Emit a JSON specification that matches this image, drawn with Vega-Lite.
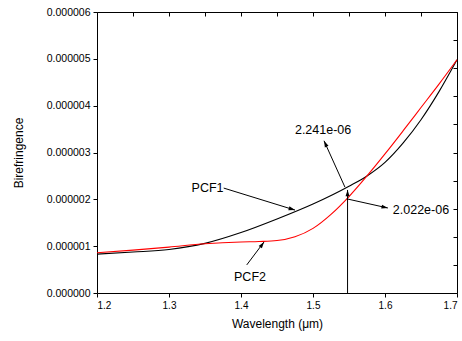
{
  "$schema": "https://vega.github.io/schema/vega-lite/v6.json",
  "width": 360,
  "height": 281,
  "autosize": {"type": "none"},
  "padding": {"left": 97, "top": 12, "right": 5, "bottom": 48},
  "background": "white",
  "config": {
    "view": {"stroke": null},
    "font": "Liberation Sans",
    "axis": {
      "grid": false,
      "domainColor": "black",
      "tickColor": "black",
      "labelColor": "black",
      "titleColor": "black",
      "labelFont": "Liberation Sans",
      "titleFont": "Liberation Sans",
      "titleFontWeight": "normal",
      "domainWidth": 1,
      "tickWidth": 1
    }
  },
  "datasets": {
    "curves": [
      {"wl": 1.2, "b": 0.00000083, "s": "PCF1"},
      {"wl": 1.25, "b": 0.000000875, "s": "PCF1"},
      {"wl": 1.3, "b": 0.00000093, "s": "PCF1"},
      {"wl": 1.35, "b": 0.00000106, "s": "PCF1"},
      {"wl": 1.4, "b": 0.00000129, "s": "PCF1"},
      {"wl": 1.45, "b": 0.00000158, "s": "PCF1"},
      {"wl": 1.5, "b": 0.0000019, "s": "PCF1"},
      {"wl": 1.55, "b": 0.00000228, "s": "PCF1"},
      {"wl": 1.575, "b": 0.0000025, "s": "PCF1"},
      {"wl": 1.6, "b": 0.00000279, "s": "PCF1"},
      {"wl": 1.625, "b": 0.0000032, "s": "PCF1"},
      {"wl": 1.65, "b": 0.0000037, "s": "PCF1"},
      {"wl": 1.675, "b": 0.0000043, "s": "PCF1"},
      {"wl": 1.7, "b": 0.00000498, "s": "PCF1"},
      {"wl": 1.2, "b": 0.00000086, "s": "PCF2"},
      {"wl": 1.25, "b": 0.000000915, "s": "PCF2"},
      {"wl": 1.3, "b": 0.00000098, "s": "PCF2"},
      {"wl": 1.35, "b": 0.00000105, "s": "PCF2"},
      {"wl": 1.4, "b": 0.00000109, "s": "PCF2"},
      {"wl": 1.425, "b": 0.0000011, "s": "PCF2"},
      {"wl": 1.45, "b": 0.00000112, "s": "PCF2"},
      {"wl": 1.475, "b": 0.0000012, "s": "PCF2"},
      {"wl": 1.5, "b": 0.00000138, "s": "PCF2"},
      {"wl": 1.525, "b": 0.00000168, "s": "PCF2"},
      {"wl": 1.55, "b": 0.00000206, "s": "PCF2"},
      {"wl": 1.575, "b": 0.0000025, "s": "PCF2"},
      {"wl": 1.6, "b": 0.00000297, "s": "PCF2"},
      {"wl": 1.625, "b": 0.00000346, "s": "PCF2"},
      {"wl": 1.65, "b": 0.00000396, "s": "PCF2"},
      {"wl": 1.675, "b": 0.00000446, "s": "PCF2"},
      {"wl": 1.7, "b": 0.00000498, "s": "PCF2"}
    ],
    "arrows": [
      {"id": "PCF1", "x1": 1.376, "y1": 0.00000224, "x2": 1.475, "y2": 0.00000177},
      {"id": "PCF2", "x1": 1.408, "y1": 0.0000006, "x2": 1.432, "y2": 0.00000109},
      {"id": "A2241", "x1": 1.5444, "y1": 0.00000226, "x2": 1.5153, "y2": 0.00000325},
      {"id": "A2022", "x1": 1.547, "y1": 0.00000201, "x2": 1.604, "y2": 0.000001815},
      {"id": "V", "x1": 1.548, "y1": 0, "x2": 1.548, "y2": 0.0000022}
    ],
    "labels": [
      {"x": 1.3535, "y": 0.00000224, "text": "PCF1"},
      {"x": 1.4125, "y": 0.00000034, "text": "PCF2"},
      {"x": 1.514, "y": 0.00000348, "text": "2.241e-06"},
      {"x": 1.65, "y": 0.00000177, "text": "2.022e-06"}
    ]
  },
  "layer": [
    {
      "data": {"name": "curves"},
      "mark": {"type": "line", "interpolate": "monotone", "strokeWidth": 1.1},
      "encoding": {
        "x": {
          "field": "wl", "type": "quantitative",
          "scale": {"domain": [1.2, 1.7], "nice": false, "zero": false},
          "axis": {"orient": "bottom", "values": [1.2, 1.3, 1.4, 1.5, 1.6, 1.7], "format": ".1f", "tickSize": 4, "labelFontSize": 10, "labelPadding": 3, "title": "Wavelength (μm)", "titleFontSize": 12, "titlePadding": 8}
        },
        "y": {
          "field": "b", "type": "quantitative",
          "scale": {"domain": [0, 0.000006], "nice": false},
          "axis": {"orient": "left", "values": [0, 0.000001, 0.000002, 0.000003, 0.000004, 0.000005, 0.000006], "format": ".6f", "tickSize": 4, "labelFontSize": 10.5, "labelPadding": 3, "title": "Birefringence", "titleFontSize": 12, "titlePadding": 21}
        },
        "color": {
          "field": "s", "type": "nominal",
          "scale": {"domain": ["PCF1", "PCF2"], "range": ["black", "#ff0000"]},
          "legend": null
        }
      }
    },
    {
      "data": {"name": "curves"},
      "mark": {"type": "line", "opacity": 0},
      "encoding": {
        "x": {
          "field": "wl", "type": "quantitative",
          "axis": {"orient": "top", "values": [1.2, 1.25, 1.3, 1.35, 1.4, 1.45, 1.5, 1.55, 1.6, 1.65, 1.7], "labels": false, "tickSize": -4, "title": null}
        },
        "y": {
          "field": "b", "type": "quantitative",
          "axis": {"orient": "right", "values": [0, 0.0000006, 0.0000012, 0.0000018, 0.0000024, 0.000003, 0.0000036, 0.0000042, 0.0000048, 0.0000054, 0.000006], "labels": false, "tickSize": -4, "title": null}
        }
      }
    },
    {
      "data": {"name": "arrows"},
      "mark": {"type": "rule", "color": "black", "strokeWidth": 1},
      "encoding": {
        "x": {"field": "x1", "type": "quantitative", "axis": null},
        "y": {"field": "y1", "type": "quantitative", "axis": null},
        "x2": {"field": "x2"},
        "y2": {"field": "y2"}
      }
    },
    {
      "data": {"name": "arrows"},
      "transform": [{"filter": "datum.id == 'PCF1'"}],
      "mark": {"type": "point", "shape": "M0,0 L-0.5,1.6 L0.5,1.6 Z", "filled": true, "color": "black", "opacity": 1, "size": 64, "angle": 107},
      "encoding": {
        "x": {"field": "x2", "type": "quantitative", "axis": null},
        "y": {"field": "y2", "type": "quantitative", "axis": null}
      }
    },
    {
      "data": {"name": "arrows"},
      "transform": [{"filter": "datum.id == 'PCF2'"}],
      "mark": {"type": "point", "shape": "M0,0 L-0.5,1.6 L0.5,1.6 Z", "filled": true, "color": "black", "opacity": 1, "size": 64, "angle": 36},
      "encoding": {
        "x": {"field": "x2", "type": "quantitative", "axis": null},
        "y": {"field": "y2", "type": "quantitative", "axis": null}
      }
    },
    {
      "data": {"name": "arrows"},
      "transform": [{"filter": "datum.id == 'A2241'"}],
      "mark": {"type": "point", "shape": "M0,0 L-0.5,1.6 L0.5,1.6 Z", "filled": true, "color": "black", "opacity": 1, "size": 64, "angle": 335.5},
      "encoding": {
        "x": {"field": "x2", "type": "quantitative", "axis": null},
        "y": {"field": "y2", "type": "quantitative", "axis": null}
      }
    },
    {
      "data": {"name": "arrows"},
      "transform": [{"filter": "datum.id == 'A2022'"}],
      "mark": {"type": "point", "shape": "M0,0 L-0.5,1.6 L0.5,1.6 Z", "filled": true, "color": "black", "opacity": 1, "size": 64, "angle": 102},
      "encoding": {
        "x": {"field": "x2", "type": "quantitative", "axis": null},
        "y": {"field": "y2", "type": "quantitative", "axis": null}
      }
    },
    {
      "data": {"name": "arrows"},
      "transform": [{"filter": "datum.id == 'V'"}],
      "mark": {"type": "point", "shape": "M0,0 L-0.5,1.6 L0.5,1.6 Z", "filled": true, "color": "black", "opacity": 1, "size": 64, "angle": 0},
      "encoding": {
        "x": {"field": "x2", "type": "quantitative", "axis": null},
        "y": {"field": "y2", "type": "quantitative", "axis": null}
      }
    },
    {
      "data": {"name": "labels"},
      "mark": {"type": "text", "font": "Liberation Sans", "fontSize": 12.5, "color": "black", "align": "center", "baseline": "middle"},
      "encoding": {
        "x": {"field": "x", "type": "quantitative", "axis": null},
        "y": {"field": "y", "type": "quantitative", "axis": null},
        "text": {"field": "text"}
      }
    }
  ],
  "resolve": {"axis": {"x": "independent", "y": "independent"}}
}
